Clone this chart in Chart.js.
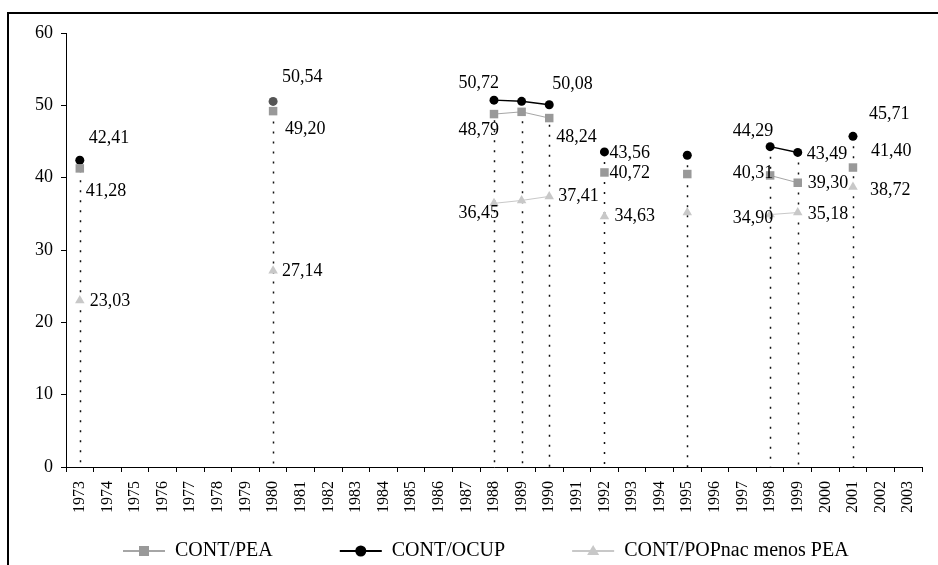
<!DOCTYPE html>
<html>
<head>
<meta charset="utf-8">
<script src="https://cdn.jsdelivr.net/npm/chart.js@4.4.0/dist/chart.umd.min.js"></script>
<style>
  body { margin: 0; background: #fff; }
  canvas { display: block; }
</style>
</head>
<body>
<canvas id="grafico" width="938" height="565"></canvas>
<script>
const ctx = document.getElementById('grafico');

// anni 1973-2003
var anni = ['1973','1974','1975','1976','1977','1978','1979','1980','1981','1982','1983','1984','1985','1986','1987',
            '1988','1989','1990','1991','1992','1993','1994','1995','1996','1997','1998','1999','2000','2001','2002','2003'];

var contPea  = [41.28,null,null,null,null,null,null,49.20,null,null,null,null,null,null,null,
                48.79,49.10,48.24,null,40.72,null,null,40.50,null,null,40.31,39.30,null,41.40,null,null];
var contOcup = [42.41,null,null,null,null,null,null,50.54,null,null,null,null,null,null,null,
                50.72,50.55,50.08,null,43.56,null,null,43.10,null,null,44.29,43.49,null,45.71,null,null];
var contPop  = [23.03,null,null,null,null,null,null,27.14,null,null,null,null,null,null,null,
                36.45,36.85,37.41,null,34.63,null,null,35.20,null,null,34.90,35.18,null,38.72,null,null];

var yTicks = [0, 10, 20, 30, 40, 50, 60];

// posizione delle etichette: [dx, dy, allineamento]
var posEtichette = {
  'CONT/PEA': {1973:[6,23,'left'], 1980:[12,18,'left'], 1988:[5,16,'right'], 1990:[7,19,'left'],
               1992:[5,1,'left'], 1998:[3,-2,'right'], 1999:[10,1,'left'], 2001:[18,-16,'left']},
  'CONT/OCUP': {1973:[9,-22,'left'], 1980:[9,-24,'left'], 1988:[5,-17,'right'], 1990:[3,-20,'left'],
               1992:[5,1,'left'], 1998:[3,-15,'right'], 1999:[9,2,'left'], 2001:[16,-22,'left']},
  'CONT/POPnac menos PEA': {1973:[10,1,'left'], 1980:[9,1,'left'], 1988:[5,10,'right'], 1990:[9,0,'left'],
               1992:[10,0,'left'], 1998:[3,4,'right'], 1999:[10,2,'left'], 2001:[17,3,'left']}
};

var coloreOcup = anni.map(function (a) { return a === '1980' ? '#555555' : '#000000'; });

var font = 'Liberation Serif';

// cornice, linee di richiamo, etichette, legenda
const extra = {
  id: 'extra',
  beforeDraw(chart) {
    const c = chart.ctx;
    c.save();
    c.fillStyle = '#fff';
    c.fillRect(0, 0, chart.width, chart.height);
    c.strokeStyle = '#000';
    c.lineWidth = 2;
    c.strokeRect(8, 13, chart.width + 20, chart.height + 20);
    c.restore();
  },
  beforeDatasetsDraw(chart) {
    const c = chart.ctx;
    const x = chart.scales.x, y = chart.scales.y;
    c.save();
    c.strokeStyle = '#111';
    c.lineWidth = 1.5;
    c.setLineDash([2, 8]);
    for (let i = 0; i < anni.length; i++) {
      const vals = chart.data.datasets.map(d => d.data[i]).filter(v => v !== null);
      if (!vals.length) continue;
      const px = Math.round(x.getPixelForValue(i)) + 0.5;
      c.beginPath();
      c.moveTo(px, y.getPixelForValue(Math.max.apply(null, vals)));
      c.lineTo(px, y.getPixelForValue(0));
      c.stroke();
    }
    c.restore();
  },
  afterDatasetsDraw(chart) {
    const c = chart.ctx;
    c.save();
    c.font = '18px "' + font + '"';
    c.fillStyle = '#000';
    c.textBaseline = 'middle';
    chart.data.datasets.forEach(function (ds, di) {
      const meta = chart.getDatasetMeta(di);
      const pos = posEtichette[ds.label];
      ds.data.forEach(function (v, i) {
        const p = pos[anni[i]];
        if (v === null || !p) return;
        const pt = meta.data[i];
        c.textAlign = p[2];
        c.fillText(v.toFixed(2).replace('.', ','), pt.x + p[0], pt.y + p[1]);
      });
    });
    // legenda
    c.font = '20px "' + font + '"';
    c.textAlign = 'left';
    let lx = 123;
    const ly = 551;
    chart.data.datasets.forEach(function (ds) {
      c.strokeStyle = ds.borderColor;
      c.lineWidth = 2;
      c.beginPath();
      c.moveTo(lx, ly);
      c.lineTo(lx + 42, ly);
      c.stroke();
      const col = Array.isArray(ds.pointBackgroundColor) ? '#000' : ds.pointBackgroundColor;
      c.fillStyle = col;
      const mx = lx + 21;
      c.beginPath();
      if (ds.pointStyle === 'rect') {
        c.rect(mx - 5, ly - 5, 10, 10);
      } else if (ds.pointStyle === 'triangle') {
        c.moveTo(mx, ly - 6);
        c.lineTo(mx + 6, ly + 4);
        c.lineTo(mx - 6, ly + 4);
        c.closePath();
      } else {
        c.arc(mx, ly, 5.5, 0, Math.PI * 2);
      }
      c.fill();
      c.fillStyle = '#000';
      c.fillText(ds.label, lx + 52, ly);
      lx += 52 + c.measureText(ds.label).width + 67;
    });
    c.restore();
  }
};

new Chart(ctx, {
  type: 'line',
  data: {
    labels: anni,
    datasets: [
      {
        label: 'CONT/PEA',
        data: contPea,
        borderColor: '#a6a6a6',
        borderWidth: 1,
        pointStyle: 'rect',
        pointRadius: 6,
        pointBorderWidth: 0,
        pointBackgroundColor: '#999999',
        spanGaps: false
      },
      {
        label: 'CONT/OCUP',
        data: contOcup,
        borderColor: '#000000',
        borderWidth: 1.5,
        pointStyle: 'circle',
        pointRadius: 4.5,
        pointBorderWidth: 0,
        pointBackgroundColor: coloreOcup,
        spanGaps: false
      },
      {
        label: 'CONT/POPnac menos PEA',
        data: contPop,
        borderColor: '#c8c8c8',
        borderWidth: 1,
        pointStyle: 'triangle',
        pointRadius: 5.5,
        pointBorderWidth: 0,
        pointBackgroundColor: '#c8c8c8',
        spanGaps: false
      }
    ]
  },
  options: {
    responsive: false,
    animation: false,
    events: [],
    layout: { padding: { top: 33, right: 16, bottom: 48, left: 0 } },
    plugins: { legend: { display: false }, tooltip: { enabled: false } },
    scales: {
      x: {
        offset: true,
        grid: { offset: true, drawOnChartArea: false, tickLength: 5, color: '#000' },
        border: { color: '#000', width: 1 },
        ticks: {
          autoSkip: false, minRotation: 90, maxRotation: 90, padding: 9,
          color: '#000', font: { family: font, size: 16 }
        },
        afterFit: function (s) { s.height = 50; }
      },
      y: {
        min: 0, max: 60,
        afterBuildTicks: function (s) { s.ticks = yTicks.map(v => ({ value: v })); },
        grid: { drawOnChartArea: false, tickLength: 5, color: '#000' },
        border: { color: '#000', width: 1 },
        ticks: { padding: 8, color: '#000', font: { family: font, size: 18 } },
        afterFit: function (s) { s.width = 66; }
      }
    }
  },
  plugins: [extra]
});
</script>
</body>
</html>
